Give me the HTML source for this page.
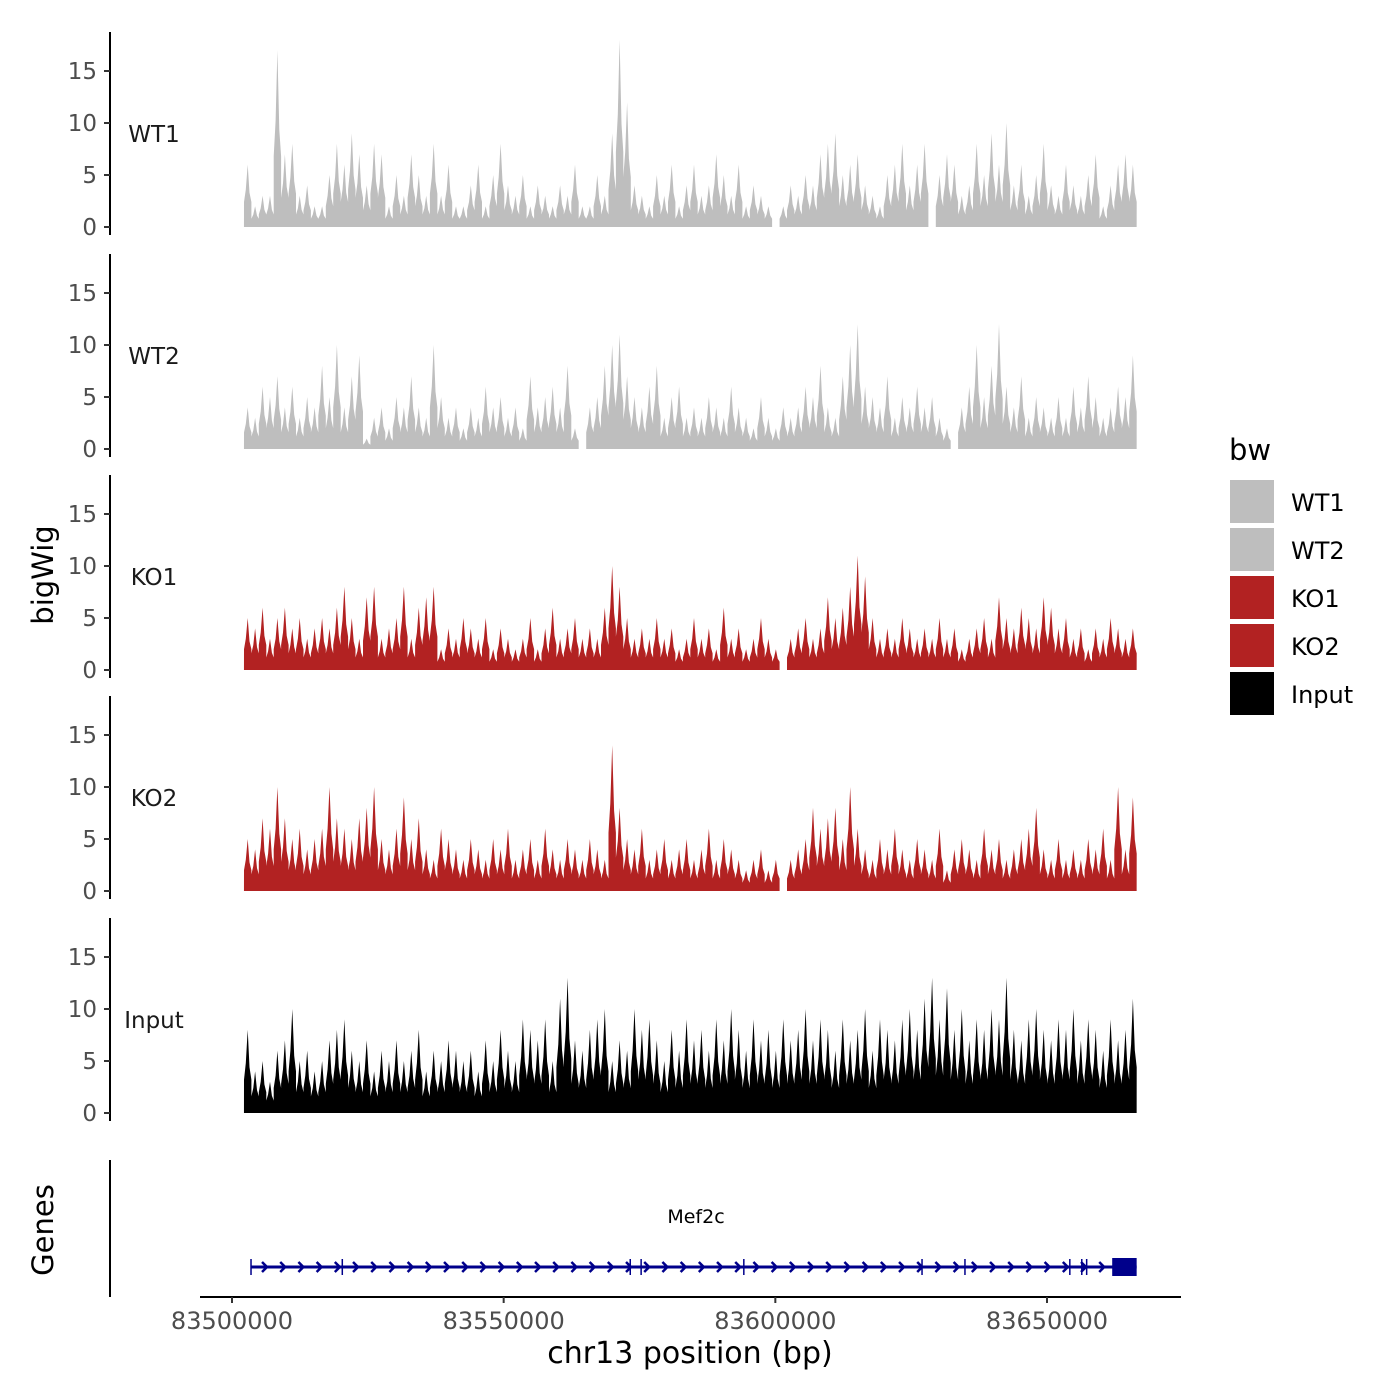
<!DOCTYPE html>
<html><head><meta charset="utf-8"><style>body{margin:0;background:#fff}svg{display:block;font-family:"DejaVu Sans","Liberation Sans",sans-serif}</style></head>
<body>
<svg id="c" width="1400" height="1400" viewBox="0 0 1400 1400"></svg>
<script>
const trackNames = ["WT1","WT2","KO1","KO2","Input"];
const trackColors = ["#bebebe","#bebebe","#b22222","#b22222","#000000"];
const yTicks = [0,5,10,15];
const xTicks = [83500000,83550000,83600000,83650000];
const dataStart = 83502200, dataEnd = 83666500;
const wt1 = [6,2,3,3,17,7,8,3,4,2, 2,5,8,6,9,7,4,8,7,2, 5,3,7,5,3,8,3,6,2,2, 4,6,2,5,8,4,3,5,2,4, 3,2,4,3,6,2,2,5,3,9, 18,12,4,3,2,5,3,6,2,4, 6,3,4,7,5,3,6,2,4,3, 2,0,2,4,3,5,4,7,8,9, 5,6,7,4,3,2,5,6,8,4, 6,8,0,5,7,6,3,4,8,5, 9,6,10,4,6,3,5,8,4,3, 6,4,3,5,7,2,4,6,7,6];
const wt2 = [4,3,6,5,7,4,6,3,5,4, 8,5,10,4,7,9,1,3,4,2, 5,4,7,4,3,10,5,3,4,2, 4,3,6,4,5,3,4,2,7,4, 5,6,4,8,2,0,4,5,8,10, 11,7,5,4,6,8,3,5,6,3, 4,3,5,4,3,6,4,3,2,5, 3,2,4,3,4,6,5,8,4,3, 7,10,12,6,5,4,7,3,5,4, 6,4,5,3,2,0,4,6,10,5, 8,12,6,4,7,3,5,4,3,5, 3,6,4,7,5,3,4,6,5,9];
const ko1 = [5,4,6,3,5,6,4,5,3,4, 5,4,6,8,5,3,7,8,3,4, 5,8,3,6,7,8,2,4,3,5, 4,3,5,2,4,3,2,3,5,2, 4,6,3,4,5,3,4,3,6,10, 8,5,3,4,3,5,3,4,2,3, 5,3,4,2,6,3,4,2,3,5, 3,2,0,3,4,5,3,4,7,5, 6,8,11,9,5,3,4,3,5,4, 3,4,3,5,3,4,2,3,4,5, 3,7,5,4,6,5,4,7,6,4, 5,3,4,2,4,3,5,4,3,4];
const ko2 = [5,4,7,6,10,7,5,6,4,5, 6,10,7,6,5,7,8,10,5,4, 6,9,5,7,4,3,6,5,4,3, 5,4,3,5,4,6,3,4,5,3, 6,4,3,5,4,3,5,4,3,14, 8,5,4,6,3,4,5,3,4,5, 3,4,6,3,5,4,3,2,3,4, 2,3,0,3,4,5,8,6,7,8, 5,10,6,4,3,5,4,6,4,3, 5,4,3,6,2,4,5,4,3,6, 4,5,3,4,5,6,8,4,3,5, 3,4,3,5,4,6,3,10,4,9];
const inputSig = [8,4,5,3,6,7,10,5,6,4, 5,7,8,9,6,5,7,4,6,5, 7,5,6,8,4,6,5,7,6,5, 6,4,7,5,8,6,5,9,8,7, 9,5,11,13,7,6,8,9,10,5, 7,6,10,8,9,7,5,8,6,9, 7,8,6,9,7,10,8,6,9,7, 8,6,9,7,8,10,7,9,8,6, 9,7,8,10,6,9,8,7,9,10, 8,11,13,9,12,8,10,7,9,8, 10,9,13,8,7,9,10,8,7,9, 8,10,7,9,8,6,9,7,8,11];
const exonPositions = [83503500,83520300,83573300,83575300,83594200,83627000,83634900,83654200,83656400,83657300];
const geneStart = 83503500, geneEnd = 83666500, utrStart = 83662000;
const series = [wt1,wt2,ko1,ko2,inputSig];

const NS="http://www.w3.org/2000/svg", svg=document.getElementById('c');
function mk(t,a,p){const e=document.createElementNS(NS,t);for(const k in a)e.setAttribute(k,a[k]);(p||svg).appendChild(e);return e;}
const xs = v => 232 + (v-83500000)*(1047-232)/150000;
const panelZero = [227,449,670,891,1113];
const ys = (i,v) => panelZero[i] - v*10.4;

series.forEach((vals,i)=>{
  const g=mk('g',{});
  
  
  const x0=xs(dataStart), x1=xs(dataEnd), n=vals.length, w=(x1-x0)/n;
  let d='M'+x0+','+panelZero[i];
  vals.forEach((v,k)=>{
    const xa=x0+k*w;
    d+=' L'+(xa).toFixed(1)+','+ys(i,v*0.4).toFixed(1);
    d+=' L'+(xa+w*0.25).toFixed(1)+','+ys(i,v*0.6).toFixed(1);
    d+=' L'+(xa+w*0.5).toFixed(1)+','+ys(i,v).toFixed(1);
    d+=' L'+(xa+w*0.75).toFixed(1)+','+ys(i,v*0.55).toFixed(1);
    d+=' L'+(xa+w).toFixed(1)+','+ys(i,v*0.4).toFixed(1);
  });
  d+=' L'+x1+','+panelZero[i]+' Z';
  const p=mk('path',{d:d,fill:trackColors[i],stroke:'none'},g);
  
  
  const ax=mk('line',{x1:110,x2:110,y1:panelZero[i]-195,y2:panelZero[i]+8,stroke:'#000','stroke-width':2},g);
  
  
  yTicks.forEach(t=>{
    const y=ys(i,t);
    mk('line',{x1:104,x2:110,y1:y,y2:y,stroke:'#333','stroke-width':2},g);
    const tl=mk('text',{x:97,y:y+8,'text-anchor':'end','font-size':23,fill:'#4d4d4d'},g);
    tl.textContent=t;
    
    
  });
  const lb=mk('text',{x:154,y:panelZero[i]-85,'text-anchor':'middle','font-size':23,fill:'#1a1a1a'},g);
  lb.textContent=trackNames[i];
  
  
});

const yt=mk('text',{x:0,y:0,transform:'translate(53,575) rotate(-90)','text-anchor':'middle','font-size':29});
yt.textContent='bigWig';



const gg=mk('g',{});


mk('line',{x1:110,x2:110,y1:1160,y2:1297,stroke:'#000','stroke-width':2},gg);
const gt=mk('text',{x:0,y:0,transform:'translate(53,1230) rotate(-90)','text-anchor':'middle','font-size':29},gg);
gt.textContent='Genes';


const gy=1267;
mk('line',{x1:xs(geneStart),x2:xs(geneEnd),y1:gy,y2:gy,stroke:'#00008b','stroke-width':3},gg);
for(let x=xs(geneStart)+14;x<xs(utrStart)-4;x+=18.2){
  mk('path',{d:`M${x-3},${gy-5} L${x+2},${gy} L${x-3},${gy+5}`,fill:'none',stroke:'#00008b','stroke-width':2.5},gg);
}
exonPositions.forEach(e=>{const x=xs(e);mk('line',{x1:x,x2:x,y1:gy-8,y2:gy+8,stroke:'#00008b','stroke-width':1.5},gg);});
mk('rect',{x:xs(utrStart),y:gy-9,width:xs(geneEnd)-xs(utrStart),height:18,fill:'#00008b'},gg);
const gn=mk('text',{x:696,y:1223,'text-anchor':'middle','font-size':19},gg);
gn.textContent='Mef2c';



const xa=mk('g',{});


mk('line',{x1:200,x2:1181,y1:1297,y2:1297,stroke:'#000','stroke-width':2},xa);
xTicks.forEach(t=>{
  const x=xs(t);
  mk('line',{x1:x,x2:x,y1:1297,y2:1303,stroke:'#333','stroke-width':2},xa);
  const l=mk('text',{x:x,y:1329,'text-anchor':'middle','font-size':24,fill:'#4d4d4d'},xa);
  l.textContent=t;
  
  
});
const xt=mk('text',{x:690,y:1363,'text-anchor':'middle','font-size':30});
xt.textContent='chr13 position (bp)';



const lg=mk('g',{});


const lt=mk('text',{x:1229,y:460,'font-size':29},lg);
lt.textContent='bw';


trackNames.forEach((n,i)=>{
  const y=480+i*48;
  const k=mk('rect',{x:1230,y:y,width:44,height:43,fill:trackColors[i]},lg);
  
  
  const t=mk('text',{x:1291,y:y+31,'font-size':24},lg);
  t.textContent=n;
  
  
});
</script>
</body></html>
